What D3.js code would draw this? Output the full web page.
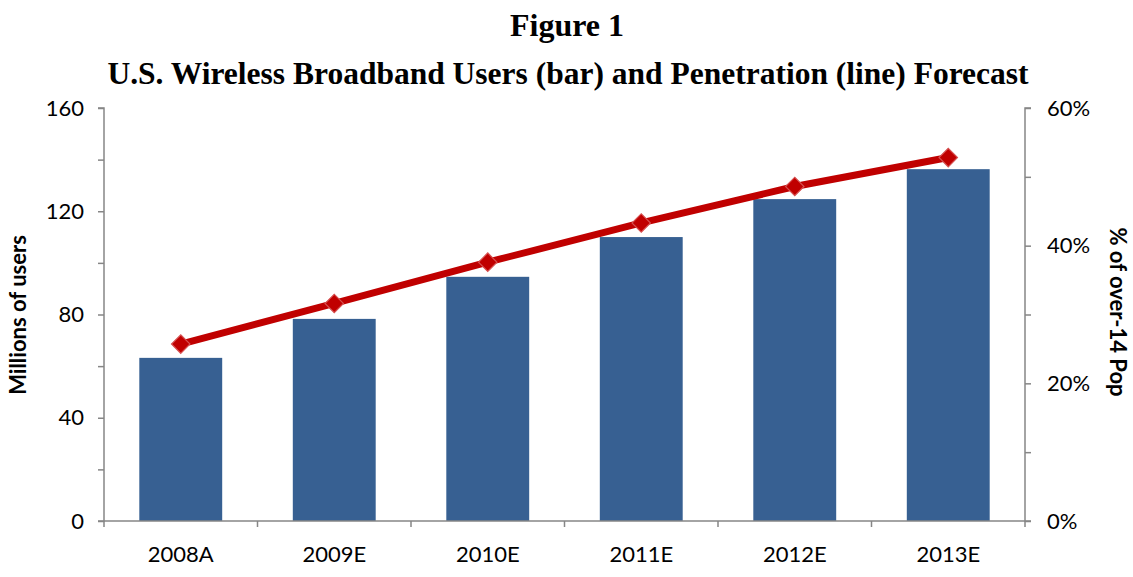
<!DOCTYPE html>
<html lang="en">
<head>
<meta charset="utf-8">
<title>U.S. Wireless Broadband Users and Penetration Forecast</title>
<script src="https://d3js.org/d3.v7.min.js"></script>
<style>
  body { margin: 0; background: #fff; }
  .title { font-family: "Liberation Serif", "Times New Roman", serif; font-weight: bold; fill: #000; }
  .tick text { font-family: Lato, "Open Sans", sans-serif; font-size: 22px; fill: #000; }
  .axis path, .axis line { stroke: #868686; stroke-width: 1.5px; }
  .axis-title { font-family: Lato, "Open Sans", sans-serif; font-weight: bold; font-size: 22px; }
</style>
</head>
<body>
<svg width="1133" height="577"></svg>
<script>
  // chart data
  var years = ["2008A", "2009E", "2010E", "2011E", "2012E", "2013E"];
  var users = [63.2, 78.3, 94.6, 110, 124.7, 136.3];       // millions
  var penetration = [25.7, 31.6, 37.6, 43.3, 48.6, 52.8];   // % of over-14 pop
  var userTicks = [0, 40, 80, 120, 160];
  var pctTicks = [0, 20, 40, 60];

  var svg = d3.select("svg");
  var plotL = 104, plotR = 1025, plotT = 108, plotB = 521;

  var x = d3.scaleBand().domain(years).range([plotL, plotR]).paddingInner(0.46).paddingOuter(0.23);
  var xEdge = d3.scaleLinear().domain([0, years.length]).range([plotL, plotR]);
  var y = d3.scaleLinear().domain([0, 160]).range([plotB, plotT]);
  var y2 = d3.scaleLinear().domain([0, 60]).range([plotB, plotT]);

  svg.append("text").attr("class", "title")
    .attr("x", 567).attr("y", 36).attr("text-anchor", "middle")
    .style("font-size", "32px").text("Figure 1");
  svg.append("text").attr("class", "title")
    .attr("x", 568).attr("y", 84).attr("text-anchor", "middle")
    .style("font-size", "31.5px")
    .text("U.S. Wireless Broadband Users (bar) and Penetration (line) Forecast");

  // bars
  svg.append("g").selectAll("rect")
    .data(users)
    .enter().append("rect")
      .attr("x", function(d, i) { return x(years[i]); })
      .attr("y", function(d) { return y(d); })
      .attr("width", x.bandwidth())
      .attr("height", function(d) { return y(0) - y(d); })
      .attr("fill", "#376092");

  // left axis: ticks every 20, labels every 40
  var gl = svg.append("g").attr("class", "axis").attr("transform", "translate(" + plotL + ",0)");
  gl.call(d3.axisLeft(y).tickValues(d3.range(0, 161, 20)).tickSize(6).tickPadding(14)
    .tickFormat(function(d) { return userTicks.indexOf(d) >= 0 ? d : ""; }));
  gl.select(".domain").attr("d", "M-6," + plotT + "H0V" + plotB + "H-6");

  // right axis: ticks every 10, labels every 20
  var gr = svg.append("g").attr("class", "axis").attr("transform", "translate(" + plotR + ",0)");
  gr.call(d3.axisRight(y2).tickValues(d3.range(0, 61, 10)).tickSize(6).tickPadding(16)
    .tickFormat(function(d) { return pctTicks.indexOf(d) >= 0 ? d + "%" : ""; }));
  gr.select(".domain").attr("d", "M6," + plotT + "H0V" + plotB + "H6");

  // bottom axis
  var gb = svg.append("g").attr("class", "axis").attr("transform", "translate(0," + plotB + ")");
  gb.call(d3.axisBottom(x).tickSize(0).tickPadding(25));
  gb.select(".domain").remove();
  gb.append("line").attr("x1", plotL).attr("x2", plotR).attr("y1", 0).attr("y2", 0);
  gb.selectAll(".edge").data(d3.range(0, years.length + 1))
    .enter().append("line").attr("class", "edge")
      .attr("x1", function(d) { return xEdge(d); }).attr("x2", function(d) { return xEdge(d); })
      .attr("y1", 0).attr("y2", 6);

  // line
  var cx = function(d, i) { return x(years[i]) + x.bandwidth() / 2; };
  svg.append("path")
    .datum(penetration)
    .attr("fill", "none")
    .attr("stroke", "#C00000")
    .attr("stroke-width", 7)
    .attr("d", d3.line().x(cx).y(function(d) { return y2(d); }));

  svg.append("g").selectAll("path")
    .data(penetration)
    .enter().append("path")
      .attr("d", d3.symbol().type(d3.symbolSquare).size(170))
      .attr("transform", function(d, i) { return "translate(" + cx(d, i) + "," + y2(d) + ") rotate(45)"; })
      .attr("fill", "#C00000")
      .attr("stroke", "#D65050")
      .attr("stroke-width", 1.2);

  // axis titles
  svg.append("text").attr("class", "axis-title")
    .attr("transform", "translate(26,315) rotate(-90)")
    .attr("text-anchor", "middle").text("Millions of users");
  svg.append("text").attr("class", "axis-title")
    .attr("transform", "translate(1110,312) rotate(90)")
    .attr("text-anchor", "middle").text("% of over-14 Pop");
</script>
</body>
</html>
